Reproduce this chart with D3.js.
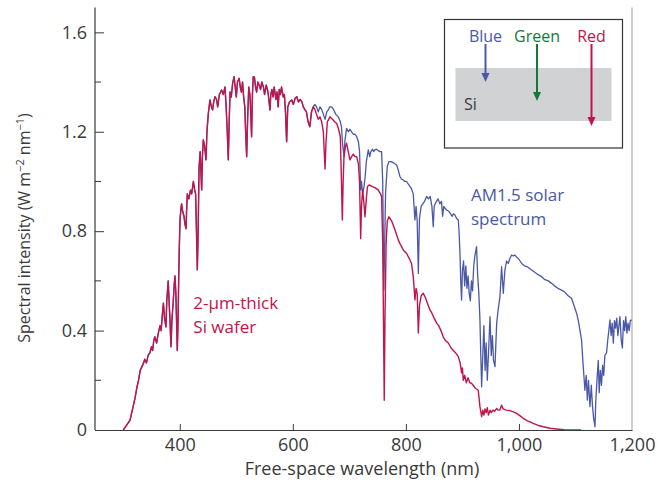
<!DOCTYPE html>
<meta charset="utf-8" />
<head>
<style>
  body { margin: 0; background: #fff; }
  text { font-family: "Open Sans", "Noto Sans", sans-serif; }
</style>
</head>
<script src="https://d3js.org/d3.v7.min.js"></script>
<div id="chart"></div>
<script>
// wavelength (nm) / intensity pairs
// below ~636 nm both curves coincide
const common = [[300,0],[306,0.02],[312,0.04],[317,0.09],[321,0.13],[324,0.17],[327,0.20],[330,0.24],[333,0.255],[336,0.27],[338,0.285],[341,0.27],[344,0.30],[347,0.31],[350,0.335],[352,0.32],[354,0.36],[356,0.375],[359,0.35],[362,0.39],[365,0.42],[367,0.40],[369,0.46],[371,0.51],[373,0.45],[375.5,0.415],[377,0.52],[379.5,0.60],[381,0.52],[382.5,0.45],[384.4,0.335],[386,0.44],[388.5,0.52],[390,0.58],[391.5,0.62],[393,0.55],[394.5,0.42],[395.6,0.32],[397,0.45],[398,0.60],[399,0.72],[400.4,0.845],[402,0.89],[403.2,0.91],[405,0.88],[407.4,0.86],[409,0.83],[411,0.81],[412,0.88],[413.3,0.95],[416,0.93],[419,0.965],[421,0.95],[424,1.0],[426,0.97],[428,0.95],[429.5,0.80],[431,0.645],[432.5,0.80],[434,1.05],[436,1.12],[438.7,0.966],[440,1.10],[441.6,1.167],[444,1.14],[446.4,1.087],[448,1.20],[450.5,1.274],[453.4,1.328],[456,1.30],[458,1.288],[460,1.32],[462.3,1.341],[465,1.33],[467,1.30],[470,1.35],[474,1.368],[477,1.35],[480,1.38],[482,1.30],[484,1.20],[485.8,1.087],[487.5,1.25],[489,1.36],[491,1.34],[493.5,1.395],[496,1.422],[498,1.38],[500,1.34],[502,1.40],[505,1.415],[507,1.38],[509,1.36],[511,1.40],[513,1.34],[515,1.30],[516.5,1.20],[518.3,1.10],[520,1.25],[522,1.38],[524,1.35],[525.5,1.28],[527,1.18],[528.5,1.35],[530,1.422],[532,1.42],[534,1.38],[536,1.36],[538,1.40],[540,1.39],[543,1.37],[545,1.40],[548,1.38],[550,1.35],[553,1.388],[556,1.36],[558,1.32],[559.6,1.288],[561,1.35],[563,1.37],[565,1.34],[567,1.38],[570,1.33],[572,1.36],[574,1.30],[576,1.37],[578,1.35],[580,1.38],[583,1.34],[585,1.35],[587,1.28],[589,1.16],[591,1.30],[594,1.32],[598,1.328],[601,1.31],[604,1.335],[607,1.341],[610,1.32],[613,1.33],[616,1.32],[618.5,1.30],[621,1.29],[624,1.28],[627,1.24],[630,1.22],[633,1.28],[636,1.30]];

const am15Tail = [[639,1.31],[642,1.30],[645,1.28],[648,1.30],[651,1.29],[654,1.27],[657,1.25],[660,1.28],[662.7,1.288],[665,1.30],[668.7,1.30],[672,1.29],[676,1.27],[680.5,1.26],[684,1.24],[686,1.22],[688,1.15],[690.5,1.10],[692,1.16],[695,1.214],[698,1.20],[701,1.21],[704,1.20],[707,1.19],[710,1.19],[713,1.18],[716,1.16],[718,1.12],[720,0.966],[721.5,1.0],[723.5,0.95],[726,0.98],[728,1.02],[730,1.08],[733.5,1.127],[736,1.10],[738,1.12],[741,1.13],[743,1.12],[745,1.127],[748,1.13],[751,1.125],[754,1.12],[757,1.12],[759,1.0],[761,0.563],[762.5,0.75],[764,0.95],[767,1.06],[770,1.08],[774,1.08],[778,1.075],[781,1.07],[783.6,1.066],[786,1.05],[789.5,1.02],[792,1.01],[795.4,1.006],[798,1.0],[801.4,1.0],[804,0.99],[807,0.98],[810,0.97],[813,0.95],[816,0.845],[818,0.90],[820,0.84],[822,0.63],[824,0.85],[827,0.90],[830,0.91],[833,0.92],[836.7,0.94],[840,0.93],[843,0.94],[846,0.90],[848.4,0.818],[850,0.90],[854,0.92],[857,0.93],[860,0.91],[863,0.92],[865,0.86],[867,0.90],[870,0.89],[872,0.885],[876,0.88],[879,0.87],[882,0.86],[884,0.87],[886.8,0.865],[890,0.85],[892.7,0.845],[894,0.80],[895.7,0.71],[897,0.60],[898.5,0.523],[900,0.64],[902,0.68],[904,0.58],[906,0.66],[908,0.57],[910,0.62],[912,0.55],[914,0.52],[916,0.60],[918,0.56],[920,0.66],[922,0.70],[925,0.738],[927,0.62],[929,0.55],[931,0.443],[932.5,0.30],[934,0.174],[936,0.30],[938,0.42],[940,0.24],[942,0.35],[944,0.20],[946,0.30],[948.8,0.456],[951,0.30],[953,0.38],[955,0.28],[957.6,0.255],[960.6,0.43],[963,0.48],[966.4,0.536],[969.3,0.657],[972.3,0.55],[975,0.64],[978,0.68],[981,0.67],[984,0.69],[987,0.704],[990,0.70],[993,0.704],[996,0.695],[999,0.69],[1002,0.68],[1004.8,0.67],[1010,0.66],[1016,0.655],[1022.4,0.644],[1028,0.635],[1034,0.625],[1040,0.617],[1046,0.605],[1052,0.60],[1057.7,0.59],[1063,0.58],[1069,0.57],[1075.4,0.563],[1081,0.555],[1087,0.54],[1093,0.53],[1096,0.51],[1099,0.49],[1102,0.47],[1105,0.44],[1108,0.40],[1110.8,0.362],[1113,0.28],[1116.7,0.16],[1119,0.22],[1121,0.12],[1123,0.20],[1125.6,0.094],[1128,0.18],[1130,0.10],[1132,0.05],[1134.5,0.013],[1136,0.12],[1138,0.20],[1140.4,0.28],[1142,0.15],[1144,0.24],[1146,0.18],[1148,0.26],[1150,0.22],[1152,0.30],[1155,0.31],[1157,0.36],[1159,0.40],[1161,0.443],[1163,0.38],[1165,0.43],[1167,0.35],[1169,0.44],[1171,0.41],[1173,0.45],[1175,0.38],[1178.7,0.456],[1181,0.36],[1183,0.33],[1185,0.44],[1187,0.40],[1189,0.456],[1191,0.39],[1193,0.43],[1195,0.40],[1197,0.44],[1199.4,0.443]];

const siTail = [[639,1.29],[642,1.27],[645,1.25],[648,1.26],[651,1.24],[654,1.20],[655.5,1.12],[657,1.05],[658.5,1.15],[661,1.24],[665.7,1.26],[670,1.25],[674,1.24],[677.4,1.234],[681,1.21],[684,1.18],[686,1.00],[687.5,0.845],[689,1.00],[690.5,1.10],[693,1.14],[695,1.154],[698,1.12],[701,1.087],[704,1.10],[707,1.11],[710,1.10],[713,1.10],[716,1.07],[718,1.00],[720,0.77],[721.5,0.90],[723.5,0.966],[725.5,0.92],[727.6,0.858],[730,0.93],[732,0.98],[735,0.986],[740,0.98],[745,0.975],[751,0.966],[755,0.95],[757,0.94],[759,0.75],[761.7,0.12],[763,0.45],[765,0.75],[767,0.84],[770,0.858],[775,0.84],[780,0.81],[783,0.79],[786.5,0.765],[789.5,0.75],[792,0.74],[795.4,0.724],[801.4,0.71],[807,0.685],[810,0.67],[813,0.617],[816,0.523],[818,0.57],[820,0.55],[822,0.39],[824,0.50],[827,0.54],[830.8,0.55],[835,0.53],[838,0.51],[842.6,0.483],[846,0.47],[850,0.45],[854.4,0.43],[858,0.42],[862,0.40],[866,0.375],[870,0.36],[875,0.35],[880,0.33],[884,0.32],[888,0.31],[892.7,0.295],[896,0.27],[898.5,0.23],[900,0.25],[901.5,0.20],[904,0.22],[907,0.19],[910,0.21],[913,0.19],[916,0.188],[919,0.18],[922,0.17],[925,0.165],[928,0.16],[931,0.094],[934,0.054],[936,0.08],[938,0.06],[940,0.085],[942,0.07],[944,0.09],[946,0.06],[948.8,0.08],[951,0.07],[954,0.08],[957,0.075],[960.6,0.087],[963,0.08],[966,0.08],[969.3,0.10],[972,0.085],[975,0.082],[978,0.08],[984,0.078],[990,0.073],[996,0.067],[1002,0.057],[1007.6,0.047],[1015,0.037],[1025.3,0.027],[1035,0.018],[1043,0.013],[1055,0.007],[1066.6,0.004],[1080,0.001],[1090,0],[1110,0]];

const am15 = common.concat(am15Tail);
const siWafer = common.concat(siTail);

const xTicks = [400, 600, 800, 1000, 1200];
const xTickLabels = ["400", "600", "800", "1,000", "1,200"];
const yMajor = [0, 0.4, 0.8, 1.2, 1.6];
const yMinor = [0.2, 0.6, 1.0, 1.4];
const insetLabels = ["Blue", "Green", "Red"];

const blue = "#4a58a8", red = "#c0144a", green = "#17773a", ink = "#3a3a3a";

const W = 667, H = 481;
const svg = d3.select("#chart").append("svg")
    .attr("width", W).attr("height", H);

const x = d3.scaleLinear().domain([250, 1200]).range([95, 632]);
const y = d3.scaleLinear().domain([0, 1.7]).range([430, 7.5]);

// right frame line (light grey)
svg.append("line")
    .attr("x1", x(1200)).attr("x2", x(1200))
    .attr("y1", y(1.7)).attr("y2", y(0))
    .attr("stroke", "#bdbdbd").attr("stroke-width", 1.5);

const line = d3.line().x(d => x(d[0])).y(d => y(d[1]));

svg.append("path").datum(am15)
    .attr("d", line).attr("fill", "none")
    .attr("stroke", blue).attr("stroke-width", 1.3).attr("stroke-linejoin", "round");
svg.append("path").datum(siWafer)
    .attr("d", line).attr("fill", "none")
    .attr("stroke", red).attr("stroke-width", 1.4).attr("stroke-linejoin", "round");

// axes
const gx = svg.append("g").attr("transform", `translate(0,${y(0)})`)
    .call(d3.axisBottom(x).tickValues(xTicks).tickSizeInner(-6).tickSizeOuter(0)
        .tickFormat((d, i) => xTickLabels[i]).tickPadding(8));
gx.selectAll(".tick").filter(d => d === 1200).select("line").remove();

const gy = svg.append("g").attr("transform", `translate(${x(250)},0)`)
    .call(d3.axisLeft(y).tickValues(yMajor).tickSizeInner(-9).tickSizeOuter(0)
        .tickFormat(d => d === 0 ? "0" : d3.format(".1f")(d)).tickPadding(8));
gy.selectAll(".minor").data(yMinor).join("line").attr("class", "minor")
    .attr("x1", 0).attr("x2", 6).attr("y1", d => y(d)).attr("y2", d => y(d))
    .attr("stroke", ink);

[gx, gy].forEach(g => {
    g.select(".domain").attr("stroke", ink).attr("stroke-width", 1.2);
    g.selectAll(".tick line").attr("stroke", ink);
    g.selectAll("text").attr("font-family", '"Open Sans", sans-serif')
        .attr("font-size", 18).attr("fill", ink);
});
gy.select(".domain").attr("d", `M0,${y(1.7)}V${y(0)}`);

// axis titles
svg.append("text").attr("x", 362).attr("y", 475)
    .attr("text-anchor", "middle").attr("font-size", 18).attr("fill", ink)
    .text("Free-space wavelength (nm)");

const yt = svg.append("text").attr("transform", "translate(30,228) rotate(-90)")
    .attr("text-anchor", "middle").attr("font-size", 16).attr("fill", ink);
yt.append("tspan").text("Spectral intensity (W m");
yt.append("tspan").attr("dy", -6).attr("font-size", 11).text("\u22122");
yt.append("tspan").attr("dy", 6).text(" nm");
yt.append("tspan").attr("dy", -6).attr("font-size", 11).text("\u22121");
yt.append("tspan").attr("dy", 6).text(")");

// curve labels
const am = svg.append("text").attr("font-size", 17).attr("fill", blue);
am.append("tspan").attr("x", x(915)).attr("y", y(0.92)).text("AM1.5 solar");
am.append("tspan").attr("x", x(915)).attr("y", y(0.825)).text("spectrum");

const si = svg.append("text").attr("font-size", 17).attr("fill", red);
si.append("tspan").attr("x", x(424)).attr("y", y(0.485)).text("2-\u00b5m-thick");
si.append("tspan").attr("x", x(424)).attr("y", y(0.39)).text("Si wafer");

// inset: penetration depth sketch
const inset = svg.append("g");
inset.append("rect").attr("x", 444.5).attr("y", 19.5).attr("width", 178).attr("height", 128.5)
    .attr("fill", "#fff").attr("stroke", "#333").attr("stroke-width", 1.2);
inset.append("rect").attr("x", 455.5).attr("y", 68).attr("width", 156).attr("height", 53)
    .attr("fill", "#d1d2d4");
inset.append("text").attr("x", 464).attr("y", 110).attr("font-size", 16).attr("fill", ink).text("Si");

const arrowX = [485.5, 537, 591.5];
const arrowEnd = [82, 101, 126];
const arrowCol = [blue, green, red];
insetLabels.forEach((lab, i) => {
    inset.append("text").attr("x", arrowX[i]).attr("y", 41.5).attr("text-anchor", "middle")
        .attr("font-size", 16).attr("fill", arrowCol[i]).text(lab);
    inset.append("line").attr("x1", arrowX[i]).attr("x2", arrowX[i])
        .attr("y1", 44).attr("y2", arrowEnd[i] - 7)
        .attr("stroke", arrowCol[i]).attr("stroke-width", 2);
    inset.append("path")
        .attr("d", `M${arrowX[i] - 4},${arrowEnd[i] - 9}L${arrowX[i] + 4},${arrowEnd[i] - 9}L${arrowX[i]},${arrowEnd[i]}Z`)
        .attr("fill", arrowCol[i]);
});
</script>
